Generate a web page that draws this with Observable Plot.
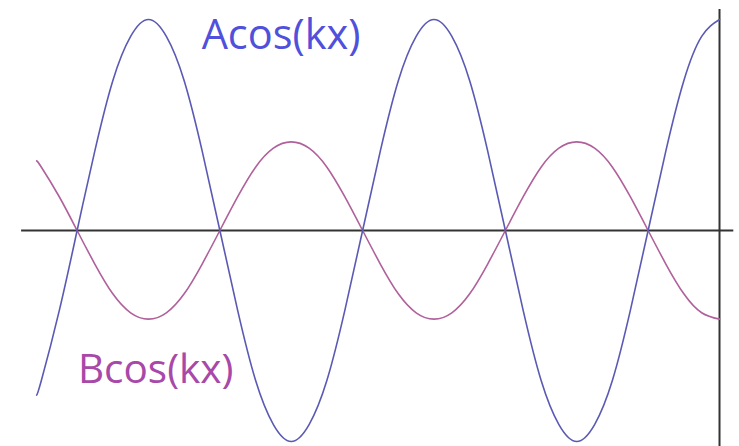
<!DOCTYPE html>
<html>
<head>
<meta charset="utf-8">
<script src="https://cdn.jsdelivr.net/npm/d3@7"></script>
<script src="https://cdn.jsdelivr.net/npm/@observablehq/plot@0.6"></script>
<style>
  html, body { margin: 0; padding: 0; background: #fff; }
  #chart svg { display: block; }
</style>
</head>
<body>
<div id="chart"></div>
<script>
// phase kx in degrees (0 = first crest of Acos(kx))
const phase = [-141, -135, -112.5, -90, -67.5, -45, -22.5, 0, 22.5, 45, 67.5, 90, 112.5, 135, 157.5, 180,
  202.5, 225, 247.5, 270, 292.5, 315, 337.5, 360, 382.5, 405, 427.5, 450, 472.5, 495, 517.5, 540,
  562.5, 585, 607.5, 630, 652.5, 675, 697.5, 720];
// Acos(kx) (A = 1)
const seriesA = [-0.78, -0.71, -0.38, 0, 0.38, 0.71, 0.92, 1, 0.92, 0.71, 0.38, 0, -0.38, -0.71, -0.92, -1,
  -0.92, -0.71, -0.38, 0, 0.38, 0.71, 0.92, 1, 0.92, 0.71, 0.38, 0, -0.38, -0.71, -0.92, -1,
  -0.92, -0.71, -0.38, 0, 0.38, 0.71, 0.92, 1];
// Bcos(kx) as drawn (opposite phase, smaller amplitude)
const seriesB = [0.33, 0.30, 0.16, 0, -0.16, -0.30, -0.39, -0.42, -0.39, -0.30, -0.16, 0, 0.16, 0.30, 0.39, 0.42,
  0.39, 0.30, 0.16, 0, -0.16, -0.30, -0.39, -0.42, -0.39, -0.30, -0.16, 0, 0.16, 0.30, 0.39, 0.42,
  0.39, 0.30, 0.16, 0, -0.16, -0.30, -0.39, -0.42];
const labels = ["Acos(kx)", "Bcos(kx)"];

const dataA = phase.map((x, i) => ({x, y: seriesA[i]}));
const dataB = phase.map((x, i) => ({x, y: seriesB[i]}));

const chart = Plot.plot({
  width: 739,
  height: 446,
  margin: 0,
  x: {domain: [-186.6, 745.2], range: [0, 739], axis: null},
  y: {domain: [-1, 1], range: [441, 19], axis: null},
  style: {background: "#fff", fontFamily: "'Open Sans', sans-serif"},
  marks: [
    Plot.ruleY([0], {x1: -160, x2: 738, stroke: "#333", strokeWidth: 2}),
    Plot.ruleX([720], {y1: 1.047, y2: -1.03, stroke: "#333", strokeWidth: 2}),
    Plot.line(dataB, {x: "x", y: "y", curve: "natural", stroke: "#b0609a", strokeWidth: 1.6}),
    Plot.line(dataA, {x: "x", y: "y", curve: "natural", stroke: "#5a5ab4", strokeWidth: 1.6}),
    Plot.text([labels[0]], {x: 67, y: 0.858, text: d => d, textAnchor: "start", lineAnchor: "bottom",
      fontSize: 41.5, fill: "#5050dc"}),
    Plot.text([labels[1]], {x: -89, y: -0.725, text: d => d, textAnchor: "start", lineAnchor: "bottom",
      fontSize: 40.5, fill: "#a848a8"})
  ]
});
document.getElementById("chart").appendChild(chart);
</script>
</body>
</html>
